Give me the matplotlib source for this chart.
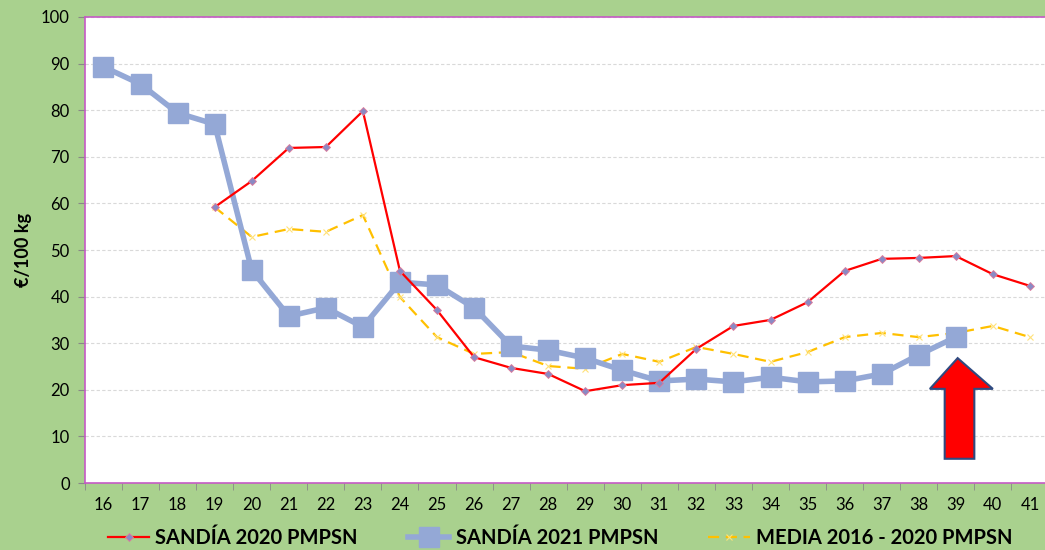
import numpy as np
import matplotlib
matplotlib.use("Agg")
import matplotlib.pyplot as plt
from matplotlib.patches import Polygon

weeks = list(range(16, 42))

# SANDÍA 2020 PMPSN, weeks 19-41
w2020 = list(range(19, 42))
sandia_2020 = [59.2, 64.8, 71.9, 72.1, 79.8, 45.5, 37.1, 27.0, 24.7, 23.4, 19.7, 21.0,
               21.5, 28.8, 33.7, 35.0, 38.8, 45.5, 48.1, 48.3, 48.7, 44.8, 42.3]

# SANDÍA 2021 PMPSN, weeks 16-39
w2021 = list(range(16, 40))
sandia_2021 = [89.3, 85.6, 79.4, 77.0, 45.7, 35.8, 37.6, 33.5, 43.1, 42.5, 37.6, 29.4,
               28.5, 26.8, 24.2, 21.9, 22.3, 21.7, 22.7, 21.7, 21.9, 23.4, 27.5, 31.3]

# MEDIA 2016 - 2020 PMPSN, weeks 19-41
wmedia = list(range(19, 42))
media = [59.2, 52.8, 54.5, 53.9, 57.5, 39.9, 31.3, 27.7, 28.1, 25.1, 24.5, 27.7,
         26.0, 29.2, 27.7, 26.0, 28.1, 31.3, 32.2, 31.3, 32.2, 33.7, 31.3]

green_bg = "#a9d18e"
border = "#c55ac5"

plt.rcParams['font.family'] = ['Lato', 'DejaVu Sans']

fig = plt.figure(figsize=(10.45, 5.5), dpi=100, facecolor=green_bg)
ax = fig.add_axes([0.0813, 0.1218, 0.922, 0.8473])
ax.set_facecolor("white")

def idx(ws):
    return [w - weeks[0] for w in ws]

ax.plot(idx(w2020), sandia_2020, color="#ff0000", lw=1.6, marker="D", markersize=4,
        markerfacecolor="#8a8ac4", markeredgecolor="#e07a9a", markeredgewidth=0.6,
        label="SANDÍA 2020 PMPSN", zorder=4)
ax.plot(idx(w2021), sandia_2021, color="#94a8d6", lw=4, marker="s", markersize=14,
        label="SANDÍA 2021 PMPSN", zorder=3)
ax.plot(idx(wmedia), media, color="#ffc000", lw=1.6, ls=(0, (5, 3)), marker="x",
        markersize=5, markeredgecolor="#ffe27a", markeredgewidth=0.8,
        label="MEDIA 2016 - 2020 PMPSN", zorder=2)

# red arrow pointing at week 39
ax.add_patch(Polygon([(22.3, 20.2), (23.05, 26.8), (24.0, 20.2), (23.5, 20.2),
                      (23.5, 5.2), (22.7, 5.2), (22.7, 20.2)], closed=True,
                     facecolor="#ff0000", edgecolor="#2f4a80", lw=1.5, zorder=5))

ax.set_xlim(-0.5, len(weeks) - 0.5)
ax.set_ylim(0, 100)
ax.set_yticks(range(0, 101, 10))
ax.set_xticks(range(len(weeks)))
ax.set_xticklabels([str(w) for w in weeks])
ax.set_xticks(np.arange(-0.5, len(weeks), 1), minor=True)
ax.tick_params(axis="x", which="major", length=0, pad=10, labelsize=12)
ax.tick_params(axis="x", which="minor", length=5, color="#888888")
ax.tick_params(axis="y", length=5, color="#888888", labelsize=12, pad=6)
ax.yaxis.grid(True, color="#d9d9d9", ls=(0, (3, 2)), lw=0.8)
ax.set_axisbelow(True)

for s in ["left", "top", "bottom", "right"]:
    ax.spines[s].set_color(border)
    ax.spines[s].set_linewidth(1.2)

ax.set_ylabel("€/100 kg", fontsize=13, fontweight="bold", labelpad=6)

fig.legend(loc="center", bbox_to_anchor=(0.536, 0.022), ncol=3, frameon=False,
           prop={"weight": "bold", "size": 14.5}, handlelength=2.05,
           columnspacing=2.5, handletextpad=0.3)

plt.savefig("out.png", dpi=100, facecolor=green_bg)
plt.close()
